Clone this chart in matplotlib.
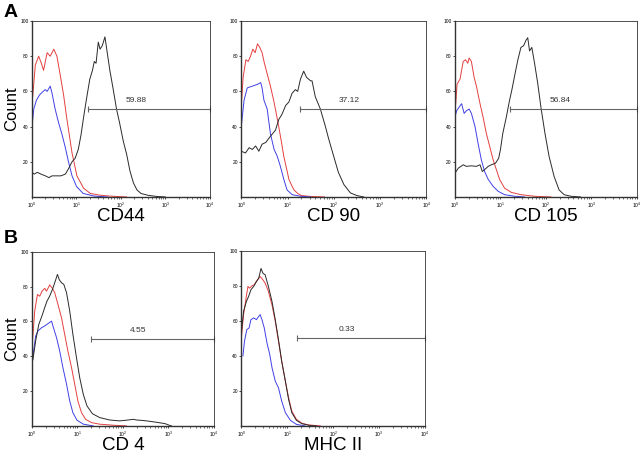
import matplotlib
matplotlib.use("Agg")
import matplotlib.pyplot as plt
import numpy as np

plt.rcParams["font.family"] = ["Liberation Sans", "DejaVu Sans"]

# fluorescence positions are stored as log10 decades, counts as read off the plot
# ---- CD44 ----
cd44_red_x = [0, 0.015, 0.075, 0.15, 0.21, 0.26, 0.34, 0.41, 0.49, 0.56, 0.63, 0.71, 0.78, 0.90, 1.01, 1.16, 1.31, 1.53, 1.75, 2.13]
cd44_red_y = [87, 57, 75, 80, 76, 72, 82, 80, 84, 80, 70, 58, 45, 25, 12, 5, 2, 1, 0.5, 0]
cd44_blue_x = [0, 0.04, 0.1, 0.17, 0.25, 0.3, 0.34, 0.41, 0.45, 0.52, 0.6, 0.67, 0.75, 0.82, 0.9, 1.0, 1.15, 1.4, 1.7]
cd44_blue_y = [40, 50, 55, 58, 60, 61, 60, 63, 59, 50, 42, 36, 28, 20, 12, 6, 2, 0.5, 0]
cd44_black_x = [0, 0.05, 0.12, 0.2, 0.3, 0.38, 0.45, 0.55, 0.65, 0.75, 0.82, 0.9, 0.97, 1.04, 1.1, 1.17, 1.24, 1.3, 1.36,
                1.4, 1.44, 1.49, 1.53, 1.58, 1.64, 1.68, 1.75, 1.82, 1.9, 1.97, 2.05, 2.13, 2.2, 2.28, 2.36, 2.45, 2.6, 2.8, 3.0]
cd44_black_y = [14, 13, 14, 13, 12, 11, 12, 12, 12, 13, 16, 20, 22, 27, 35, 47, 58, 67, 72,
                77, 76, 88, 84, 86, 91, 84, 72, 62, 50, 42, 32, 24, 15, 8, 4, 2, 1, 0.3, 0]

# ---- CD 90 ----
cd90_red_x = [0, 0.04, 0.1, 0.15, 0.2, 0.25, 0.3, 0.35, 0.4, 0.45, 0.5, 0.56, 0.63, 0.7, 0.76, 0.81, 0.87, 0.92,
              0.98, 1.03, 1.1, 1.14, 1.22, 1.3, 1.5, 1.8]
cd90_red_y = [52, 68, 78, 77, 80, 84, 82, 87, 85, 82, 76, 70, 63, 55, 47, 40, 31, 23, 16, 10, 6, 4, 2, 0.8, 0.3, 0]
cd90_blue_x = [0, 0.06, 0.13, 0.24, 0.35, 0.42, 0.45, 0.49, 0.56, 0.63, 0.71, 0.78, 0.85, 0.92, 0.99, 1.1, 1.28, 1.5]
cd90_blue_y = [40, 55, 62, 63, 64, 65, 62, 55, 50, 36, 27, 23, 17, 10, 4, 1.3, 0.4, 0]
cd90_black_x = [0, 0.09, 0.17, 0.24, 0.31, 0.38, 0.45, 0.53, 0.63, 0.74, 0.81, 0.88, 0.96, 1.03, 1.1, 1.17, 1.22, 1.28,
                1.35, 1.41, 1.5, 1.53, 1.6, 1.71, 1.82, 1.89, 2.0, 2.1, 2.22, 2.36, 2.5, 2.65]
cd90_black_y = [26, 25, 28, 27, 29, 26, 30, 31, 34.5, 38, 44, 47, 52, 54, 59, 61, 60, 67,
                71.5, 68, 66, 66, 57, 50, 40, 33, 23, 14, 7, 2.3, 0.8, 0]

# ---- CD 105 ----
cd105_red_x = [0, 0.015, 0.044, 0.11, 0.18, 0.23, 0.28, 0.31, 0.36, 0.42, 0.47, 0.55, 0.62, 0.69, 0.76, 0.84, 0.91,
               0.98, 1.09, 1.24, 1.45, 1.75, 2.11]
cd105_red_y = [85, 53, 64, 67, 77, 78, 76, 79, 77, 68, 63, 53, 45, 36, 29, 21, 15.5, 10, 5, 2.6, 1.3, 0.4, 0]
cd105_blue_x = [0, 0.036, 0.087, 0.145, 0.2, 0.25, 0.31, 0.36, 0.44, 0.51, 0.58, 0.65, 0.73, 0.84, 0.95, 1.09, 1.31, 1.53]
cd105_blue_y = [45.6, 49, 51, 53, 47.5, 49, 50, 47.5, 40, 30, 21, 14.5, 10, 6, 3.2, 1.3, 0.4, 0]
cd105_black_x = [0, 0.073, 0.18, 0.25, 0.36, 0.47, 0.55, 0.6, 0.65, 0.73, 0.8, 0.89, 0.96, 1.0, 1.05, 1.13, 1.2, 1.25,
                 1.32, 1.38, 1.45, 1.51, 1.56, 1.6, 1.64, 1.69, 1.75, 1.82, 1.89, 1.98, 2.07, 2.18, 2.29, 2.4, 2.55, 2.76]
cd105_black_y = [13.6, 16.4, 18.3, 17.4, 17.7, 17.4, 18.3, 14.5, 15.5, 17.4, 18.3, 19.2, 22, 27, 36, 45.6, 55, 60.8,
                 70, 77.7, 85, 86, 89, 90.5, 83, 85, 76, 64.5, 51, 36, 23, 11.7, 4, 1.3, 0.4, 0]

# ---- CD 4 ----
cd4_red_x = [0, 0.06, 0.12, 0.17, 0.22, 0.28, 0.32, 0.39, 0.45, 0.5, 0.57, 0.65, 0.72, 0.79, 0.87, 0.94, 1.01, 1.09,
             1.18, 1.31, 1.49, 1.79, 2.08]
cd4_red_y = [45, 66, 75.5, 74.5, 77.4, 79, 77.4, 81, 79, 76.5, 70, 62, 52.5, 43, 33.5, 24, 14.3, 7.6, 3.8, 1.9, 1, 0.4, 0]
cd4_blue_x = [0.02, 0.08, 0.13, 0.21, 0.28, 0.35, 0.43, 0.46, 0.54, 0.61, 0.68, 0.76, 0.83, 0.9, 0.99, 1.13, 1.35]
cd4_blue_y = [40, 51.6, 54.5, 56.4, 57.4, 58.7, 60.2, 57.4, 50.7, 43, 33.5, 24, 14.3, 7.6, 3.3, 1, 0]
cd4_black_x = [0.02, 0.08, 0.15, 0.23, 0.28, 0.33, 0.39, 0.45, 0.5, 0.56, 0.6, 0.65, 0.7, 0.76, 0.83, 0.9, 0.98, 1.05,
               1.13, 1.21, 1.33, 1.49, 1.71, 1.93, 2.08, 2.23, 2.3, 2.41, 2.52, 2.74, 2.93, 3.02, 3.07]
cd4_black_y = [38, 48.8, 58.3, 64, 68, 71.7, 74.6, 78.4, 82.2, 87, 84, 82.2, 81.3, 76.5, 66, 52.6, 39, 27.7,
               18, 11.5, 7, 4.8, 3.4, 2.9, 3.3, 3.8, 3.4, 3.2, 2.9, 2.1, 1.3, 0.4, 0]

# ---- MHC II ----
mhc_red_x = [0, 0.05, 0.11, 0.145, 0.18, 0.23, 0.28, 0.34, 0.41, 0.47, 0.52, 0.59, 0.67, 0.74, 0.81, 0.88, 0.96,
             1.03, 1.1, 1.2, 1.32, 1.46, 1.72]
mhc_red_y = [50, 63.6, 74, 79.7, 78.7, 80, 80.6, 83, 85.4, 83.5, 81.6, 76.9, 69, 59.8, 48.4, 37, 25.6, 16.1, 8.5,
             3.8, 1.5, 0.6, 0]
mhc_black_x = [0, 0.05, 0.11, 0.16, 0.21, 0.27, 0.33, 0.38, 0.43, 0.47, 0.52, 0.59, 0.67, 0.74, 0.81, 0.88, 0.96,
               1.03, 1.1, 1.2, 1.32, 1.5, 1.64]
mhc_black_y = [53, 65.5, 71, 74, 77.8, 79.7, 82.5, 84.4, 90, 87.3, 86.3, 79.7, 71, 60.7, 49.3, 37, 25.6, 15.2, 7.6,
               3.2, 1.3, 0.2, 0]
mhc_blue_x = [0.036, 0.07, 0.12, 0.17, 0.21, 0.27, 0.33, 0.38, 0.41, 0.45, 0.5, 0.56, 0.62, 0.67, 0.74, 0.81, 0.88,
              0.96, 1.07, 1.2, 1.39]
mhc_blue_y = [40, 48.4, 55, 56, 60.7, 61.7, 60.7, 62.6, 63.6, 60.7, 56, 47.4, 40.8, 33.2, 25.6, 21.8, 14.2, 7.6,
              3.2, 0.9, 0]

markers = ["CD44", "CD 90", "CD 105", "CD 4", "MHC II"]
gate_pct = ["59.88", "37.12", "56.84", "4.55", "0.33"]
gate_start = [18.6, 19.0, 16.6, 19.5, 16.6]   # left end of the positive gate
gate_level = 50

curves = [
    [(cd44_red_x, cd44_red_y), (cd44_blue_x, cd44_blue_y), (cd44_black_x, cd44_black_y)],
    [(cd90_red_x, cd90_red_y), (cd90_blue_x, cd90_blue_y), (cd90_black_x, cd90_black_y)],
    [(cd105_red_x, cd105_red_y), (cd105_blue_x, cd105_blue_y), (cd105_black_x, cd105_black_y)],
    [(cd4_red_x, cd4_red_y), (cd4_blue_x, cd4_blue_y), (cd4_black_x, cd4_black_y)],
    [(mhc_red_x, mhc_red_y), (mhc_blue_x, mhc_blue_y), (mhc_black_x, mhc_black_y)],
]
colors = ["#e43f3f", "#4040e6", "#2a2a2a"]

fig = plt.figure(figsize=(6.4, 4.57), dpi=100)
positions = [
    [0.050, 0.569, 0.278, 0.385],
    [0.377, 0.569, 0.289, 0.385],
    [0.711, 0.569, 0.284, 0.385],
    [0.050, 0.068, 0.284, 0.381],
    [0.377, 0.068, 0.287, 0.383],
]

for i, pos in enumerate(positions):
    ax = fig.add_axes(pos)
    for (lx, cnt), c in zip(curves[i], colors):
        ax.plot(10 ** np.array(lx), cnt, color=c, lw=0.7)
    ax.set_xscale("log")
    ax.set_xlim(1, 1e4)
    ax.set_ylim(0, 100)
    ax.set_yticks([20, 40, 60, 80, 100])
    ax.tick_params(axis="both", labelsize=3.5, length=1.5, width=0.5, pad=1)
    ax.tick_params(axis="x", which="minor", length=1.2, width=0.4)
    for s in ax.spines.values():
        s.set_linewidth(0.6)
        s.set_color("#333333")
    ax.spines["left"].set_linewidth(1.0)
    ax.spines["bottom"].set_linewidth(1.0)

    # positive gate
    ax.plot([gate_start[i], 1e4], [gate_level, gate_level], color="#666666", lw=0.8,
            marker="|", markersize=5, markeredgewidth=0.8, clip_on=False)
    xm = np.sqrt(gate_start[i] * 1e4) * 0.5
    ax.text(xm, gate_level + 3, gate_pct[i], fontsize=6, color="#333333", ha="center", va="bottom")

    ax.set_xlabel(markers[i], fontsize=13.5, labelpad=-1)
    if i in (0, 3):
        ax.set_ylabel("Count", fontsize=12, labelpad=1)

fig.text(0.006, 0.972, "A", fontsize=14, fontweight="bold", va="center")
fig.text(0.006, 0.478, "B", fontsize=14, fontweight="bold", va="center")

fig.savefig("out.png", dpi=100)
